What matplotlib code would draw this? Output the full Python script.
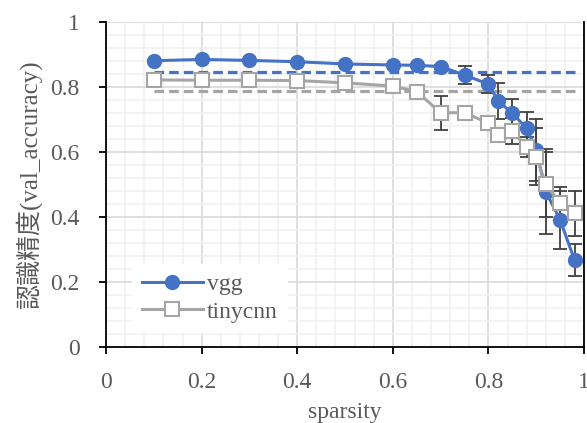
import matplotlib
matplotlib.use("Agg")
import matplotlib.pyplot as plt
from matplotlib.ticker import MultipleLocator, FuncFormatter

plt.rcParams['font.family'] = ['Liberation Serif', 'Noto Sans CJK JP']

sparsity = [0.1, 0.2, 0.3, 0.4, 0.5, 0.6, 0.65, 0.7, 0.75, 0.8, 0.82, 0.85, 0.88, 0.9, 0.92, 0.95, 0.98]
vgg = [0.880, 0.884, 0.881, 0.877, 0.870, 0.867, 0.866, 0.862, 0.836, 0.808, 0.757, 0.718, 0.672, 0.605, 0.477, 0.390, 0.267]
vgg_err = [0.003, 0.003, 0.003, 0.003, 0.003, 0.004, 0.005, 0.006, 0.027, 0.028, 0.056, 0.043, 0.051, 0.095, 0.13, 0.09, 0.05]
tinycnn = [0.821, 0.820, 0.820, 0.819, 0.812, 0.802, 0.785, 0.720, 0.720, 0.688, 0.651, 0.664, 0.614, 0.585, 0.500, 0.441, 0.410]
tinycnn_err = [0.003, 0.003, 0.003, 0.003, 0.004, 0.005, 0.008, 0.052, 0.006, 0.015, 0.02, 0.041, 0.03, 0.087, 0.10, 0.05, 0.068]
vgg_base = [0.845] * len(sparsity)
tinycnn_base = [0.788] * len(sparsity)
ticks = [0, 0.2, 0.4, 0.6, 0.8, 1.0]

blue = '#4472C4'
gray = '#A5A5A5'
errc = '#404040'
textc = '#595959'

fig = plt.figure(figsize=(5.87, 4.23), dpi=100)
ax = fig.add_axes([0.1806, 0.1803, 0.8144, 0.7683])

ax.set_xlim(0, 1)
ax.set_ylim(0, 1)
ax.set_xticks(ticks)
ax.set_yticks(ticks)
ax.xaxis.set_minor_locator(MultipleLocator(0.04))
ax.yaxis.set_minor_locator(MultipleLocator(0.04))
fmt = FuncFormatter(lambda v, p: '%g' % round(v, 2))
ax.xaxis.set_major_formatter(fmt)
ax.yaxis.set_major_formatter(fmt)
ax.grid(which='major', color='#D9D9D9', linewidth=1.2, zorder=0)
ax.grid(which='minor', color='#F0F0F0', linewidth=1.1, zorder=0)
ax.set_axisbelow(True)

ax.plot(sparsity, vgg_base, color=blue, linewidth=2.3, dashes=(3, 1.6), zorder=2)
ax.plot(sparsity, tinycnn_base, color=gray, linewidth=2.3, dashes=(3, 1.6), zorder=2)

ax.errorbar(sparsity, vgg, yerr=vgg_err, fmt='none', ecolor=errc, elinewidth=1.3,
            capsize=5, capthick=1.3, zorder=3)
ax.errorbar(sparsity, tinycnn, yerr=tinycnn_err, fmt='none', ecolor=errc, elinewidth=1.3,
            capsize=5, capthick=1.3, zorder=3)

ax.plot(sparsity, vgg, color=blue, linewidth=2.2, marker='o', markersize=10,
        markerfacecolor=blue, markeredgecolor=blue, label='vgg', zorder=4)
ax.plot(sparsity, tinycnn, color=gray, linewidth=2.2, marker='s', markersize=10,
        markerfacecolor='white', markeredgecolor=gray, markeredgewidth=1.5,
        label='tinycnn', zorder=5)

for s in ['left', 'bottom', 'right']:
    ax.spines[s].set_color('black')
    ax.spines[s].set_linewidth(1.3)
ax.spines['top'].set_visible(False)

ax.tick_params(which='major', direction='out', length=5, width=1.3, color='black',
               labelsize=17, labelcolor=textc, right=False, top=False)
ax.tick_params(axis='y', which='major', pad=14)
ax.tick_params(axis='x', which='major', pad=13)
ax.tick_params(which='minor', length=0)

ax.set_xlabel('sparsity', fontsize=17, color=textc, labelpad=7)
ax.set_ylabel('認識精度(val_accuracy)', fontsize=18, color=textc, labelpad=6)

leg = ax.legend(loc='upper left', bbox_to_anchor=(0.03, 0.29), fontsize=17,
                frameon=True, fancybox=False, edgecolor='white', framealpha=1,
                handlelength=2.6, handletextpad=0.15, labelspacing=0.25,
                borderpad=0.4)
for t in leg.get_texts():
    t.set_color(textc)

fig.savefig('out.png', dpi=100)
